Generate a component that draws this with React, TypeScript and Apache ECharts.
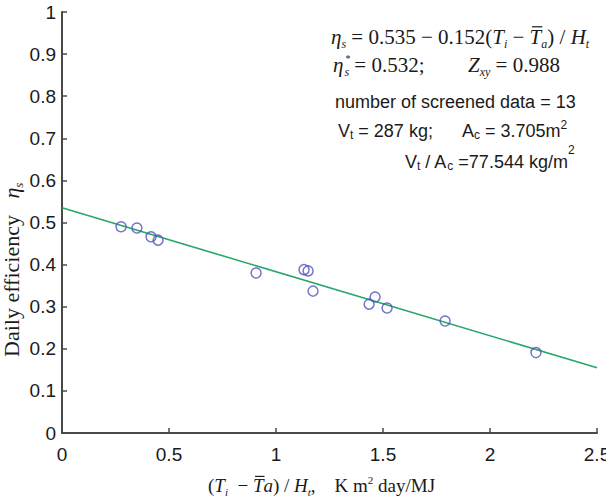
import React, { useEffect, useRef } from 'react';
import * as echarts from 'echarts';

// ---- data ----
const screenedX = [0.276, 0.35, 0.416, 0.449, 0.907, 1.131, 1.15, 1.173, 1.435, 1.463, 1.519, 1.79, 2.215];
const screenedY = [0.49, 0.487, 0.466, 0.458, 0.38, 0.388, 0.385, 0.337, 0.306, 0.323, 0.297, 0.266, 0.191];
const fitX = [0, 2.5];
const fitY = [0.535, 0.155];

const SERIF = '"Liberation Serif", "Times New Roman", serif';
const SANS = '"Liberation Sans", Arial, sans-serif';
const TEXT = '#1a1a1a';

type Seg = { t: string; size: number; it?: boolean; sans?: boolean; dy?: number; dx?: number; noAdv?: boolean; at?: number; bar?: boolean };

let mctx: CanvasRenderingContext2D | null = null;
function measure(text: string, font: string) {
  if (!mctx) mctx = document.createElement('canvas').getContext('2d');
  mctx!.font = font;
  return mctx!.measureText(text).width;
}

function layout(segs: Seg[], x0: number, base: number) {
  const els: any[] = [];
  let x = x0;
  for (const s of segs) {
    if (s.at !== undefined) x = s.at;
    const fam = s.sans ? SANS : SERIF;
    const font = `${s.it ? 'italic ' : ''}${s.size}px ${fam}`;
    const w = measure(s.t, font);
    const bx = x + (s.dx || 0);
    const by = base + (s.dy || 0);
    els.push({
      type: 'text',
      x: bx,
      y: by - 0.34 * s.size,
      style: { text: s.t, font, fill: TEXT, align: 'left', verticalAlign: 'middle' },
    });
    if (s.bar) {
      els.push({
        type: 'line',
        shape: { x1: bx + w * 0.2, y1: by - s.size * 0.82, x2: bx + w + 1, y2: by - s.size * 0.82 },
        style: { stroke: TEXT, lineWidth: 1.2 },
      });
    }
    if (!s.noAdv) x += w;
  }
  return els;
}

export default function App() {
  const ref = useRef<HTMLDivElement>(null);
  useEffect(() => {
    const chart = echarts.init(ref.current!, undefined, { renderer: 'svg' });
    const M = 21, S = 12, A = 18, AS = 12;

    const line1 = layout([
      { t: 'η', size: M, it: true },
      { t: 's', size: S, it: true, dy: 4 },
      { t: ' = 0.535 − 0.152(', size: M },
      { t: 'T', size: M, it: true },
      { t: 'i', size: S, it: true, dy: 4 },
      { t: ' − ', size: M },
      { t: 'T', size: M, it: true, bar: true },
      { t: 'a', size: S, it: true, dy: 4 },
      { t: ') / ', size: M },
      { t: 'H', size: M, it: true },
      { t: 't', size: S, it: true, dy: 4 },
    ], 331, 44);

    // line 2: η with a stacked * (superscript) and s (subscript)
    const l2x = 333, l2base = 72;
    const etaW = measure('η', `italic ${M}px ${SERIF}`);
    const sW = measure('s', `italic ${S}px ${SERIF}`);
    const spW = measure(' ', `${M}px ${SERIF}`);
    const line2 = [
      ...layout([{ t: 'η', size: M, it: true }], l2x, l2base),
      {
        type: 'text',
        x: l2x + etaW + 1,
        y: 65,
        style: {
          text: '{a|*}\n{b|s}',
          align: 'left',
          verticalAlign: 'middle',
          fill: TEXT,
          rich: {
            a: { fontSize: 10, fontFamily: SERIF, lineHeight: 13, fill: TEXT, padding: [0, 0, 0, 1] },
            b: { fontSize: S, fontFamily: SERIF, fontStyle: 'italic', lineHeight: 13, fill: TEXT },
          },
        },
      },
      ...layout([
        { t: '= 0.532;', size: M },
        { t: 'Z', size: M, it: true, at: 468 },
        { t: 'xy', size: S, it: true, dy: 4 },
        { t: ' = 0.988', size: M },
      ], l2x + etaW + 1 + sW + spW, l2base),
    ];
    const line3 = layout([{ t: 'number of screened data = 13', size: A, sans: true }], 335, 108);
    const line4 = layout([
      { t: 'V', size: A, sans: true },
      { t: 't', size: AS, sans: true, dy: 2 },
      { t: ' = 287 kg;', size: A, sans: true },
      { t: 'A', size: A, sans: true, at: 462 },
      { t: 'c', size: AS, sans: true, dy: 2 },
      { t: ' = 3.705m', size: A, sans: true },
      { t: '2', size: AS, sans: true, dy: -8 },
    ], 338, 137);
    const line5 = layout([
      { t: 'V', size: A, sans: true },
      { t: 't', size: AS, sans: true, dy: 2 },
      { t: ' / A', size: A, sans: true },
      { t: 'c', size: AS, sans: true, dy: 2 },
      { t: ' =77.544 kg/m', size: A, sans: true },
      { t: '2', size: AS, sans: true, dy: -14 },
    ], 405, 168);
    const xName = layout([
      { t: '(', size: 19 },
      { t: 'T', size: 19, it: true },
      { t: 'i', size: 11, it: true, dy: 4 },
      { t: '  − ', size: 19 },
      { t: 'T', size: 19, it: true, bar: true },
      { t: 'a', size: 19, it: true },
      { t: ') / ', size: 19 },
      { t: 'H', size: 19, it: true },
      { t: 't', size: 11, it: true, dy: 4 },
      { t: ',    K m', size: 19 },
      { t: '2', size: 11, dy: -8 },
      { t: ' day/MJ', size: 19 },
    ], 208, 492);
    const yNameChildren = layout([
      { t: 'Daily efficiency   ', size: 22 },
      { t: 'η', size: 22, it: true },
      { t: 's', size: 13, it: true, dy: 4 },
    ], 0, 0);

    const option: any = {
      animation: false,
      backgroundColor: '#ffffff',
      grid: { left: 62, top: 12, width: 535, height: 421, containLabel: false },
      xAxis: {
        type: 'value',
        min: 0,
        max: 2.5,
        interval: 0.5,
        axisLine: { show: true, lineStyle: { color: '#4a4a4a', width: 2 } },
        axisTick: { show: true, inside: true, length: 5, lineStyle: { color: '#4a4a4a', width: 1.5 } },
        axisLabel: { color: TEXT, fontSize: 19, fontFamily: SANS, margin: 12 },
        splitLine: { show: false },
      },
      yAxis: {
        type: 'value',
        min: 0,
        max: 1,
        interval: 0.1,
        axisLine: { show: true, lineStyle: { color: '#4a4a4a', width: 2 } },
        axisTick: { show: true, inside: true, length: 5, lineStyle: { color: '#4a4a4a', width: 1.5 } },
        axisLabel: { color: TEXT, fontSize: 19, fontFamily: SANS, margin: 6 },
        splitLine: { show: false },
      },
      series: [
        {
          type: 'scatter',
          data: screenedX.map((x, i) => [x, screenedY[i]]),
          symbol: 'circle',
          symbolSize: 10,
          itemStyle: { color: 'rgba(0,0,0,0)', borderColor: '#5252bb', borderWidth: 1.5 },
          z: 3,
        },
        {
          type: 'line',
          data: fitX.map((x, i) => [x, fitY[i]]),
          symbol: 'none',
          lineStyle: { color: '#27a66b', width: 1.6 },
          z: 2,
        },
      ],
      graphic: [
        ...line1, ...line2, ...line3, ...line4, ...line5, ...xName,
        { type: 'group', x: 19, y: 357, rotation: Math.PI / 2, children: yNameChildren },
      ],
    };
    chart.setOption(option);
    return () => chart.dispose();
  }, []);
  // The chart is wider than the window so that the last x label is cut by the window's edge, as in the reference.
  return <div ref={ref} style={{ position: 'fixed', left: 0, top: 0, width: 624, height: 497, background: '#fff' }} />;
}
